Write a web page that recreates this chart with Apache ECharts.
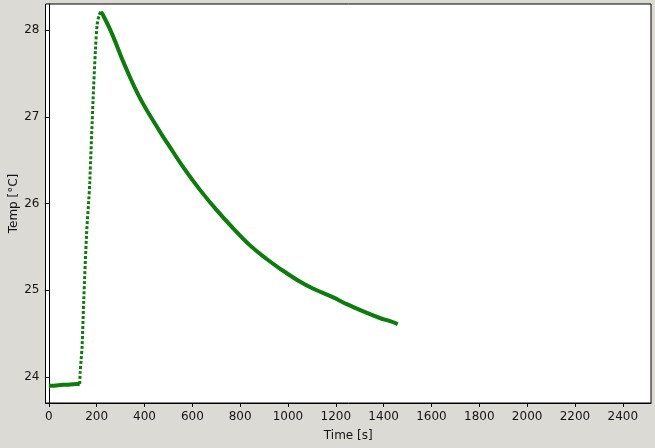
<!DOCTYPE html>
<html>
<head>
<meta charset="utf-8">
<script src="https://cdn.jsdelivr.net/npm/echarts@6/dist/echarts.min.js"></script>
<style>
html,body{margin:0;padding:0;background:#dcdad5;}
#c{width:655px;height:448px;}
</style>
</head>
<body>
<div id="c"></div>
<script>
// Data: time [s], temperature [°C]
const baseTime = [0, 20, 40, 60, 80, 100, 120, 129];
const baseTemp = [23.90, 23.90, 23.905, 23.91, 23.91, 23.915, 23.92, 23.92];

const riseTime = [129, 131, 135, 139, 146, 158, 167, 171, 185, 195, 202, 210, 217];
const riseTemp = [23.92, 24.05, 24.20, 24.35, 24.89, 25.66, 26.04, 26.24, 27.20, 27.78, 28.06, 28.17, 28.21];

const decayTime = [217, 225, 262, 318, 380, 464, 497, 564, 631, 700, 769, 840, 911, 966, 1049, 1104, 1187, 1246, 1320, 1384, 1430, 1459];
const decayTemp = [28.21, 28.18, 27.97, 27.59, 27.22, 26.83, 26.69, 26.41, 26.16, 25.93, 25.72, 25.52, 25.36, 25.25, 25.10, 25.02, 24.92, 24.84, 24.75, 24.68, 24.64, 24.61];

const xTicks = [0, 200, 400, 600, 800, 1000, 1200, 1400, 1600, 1800, 2000, 2200, 2400];
const yTicks = [24, 25, 26, 27, 28];

const pair = (t, v) => t.map((x, i) => [x, v[i]]);
const green = '#0a7d0a';
const txt = '#151515';
const font = 'DejaVu Sans';

const chart = echarts.init(document.getElementById('c'), null, {renderer: 'canvas'});
chart.setOption({
  backgroundColor: '#dcdad5',
  animation: false,
  grid: {left: 45.5, right: 4, top: 4, bottom: 45, show: true, backgroundColor: '#ffffff',
         borderColor: '#000', borderWidth: 1, containLabel: false, outerBoundsMode: 'none'},
  xAxis: {
    type: 'value', min: -14, max: 2518,
    name: 'Time [s]', nameLocation: 'middle', nameGap: 27, nameMoveOverlap: false,
    nameTextStyle: {fontFamily: font, fontSize: 12, color: txt},
    axisLine: {show: true, lineStyle: {color: '#000', width: 1}},
    axisTick: {show: true, length: 4, lineStyle: {color: '#000'}, customValues: xTicks},
    axisLabel: {fontFamily: font, fontSize: 12, color: txt, margin: 8, customValues: xTicks,
                formatter: v => String(v)},
    splitLine: {show: false}
  },
  yAxis: {
    type: 'value', min: 23.70, max: 28.30,
    name: 'Temp [°C]', nameLocation: 'middle', nameGap: 26, nameMoveOverlap: false,
    nameTextStyle: {fontFamily: font, fontSize: 12, color: txt},
    axisLine: {show: true, lineStyle: {color: '#000', width: 1}},
    axisTick: {show: true, length: 4, lineStyle: {color: '#000'}, customValues: yTicks},
    axisLabel: {fontFamily: font, fontSize: 12, color: txt, margin: 6, customValues: yTicks,
                formatter: v => String(v)},
    splitLine: {show: false}
  },
  series: [
    {type: 'line', data: pair(baseTime, baseTemp), showSymbol: false,
     lineStyle: {color: green, width: 4}},
    {type: 'line', data: pair(riseTime, riseTemp), showSymbol: false, smooth: 0.3,
     lineStyle: {color: green, width: 3, type: [3, 2]}},
    {type: 'line', data: pair(decayTime, decayTemp), showSymbol: false, smooth: 0.4,
     lineStyle: {color: green, width: 4}}
  ]
});
</script>
</body>
</html>
